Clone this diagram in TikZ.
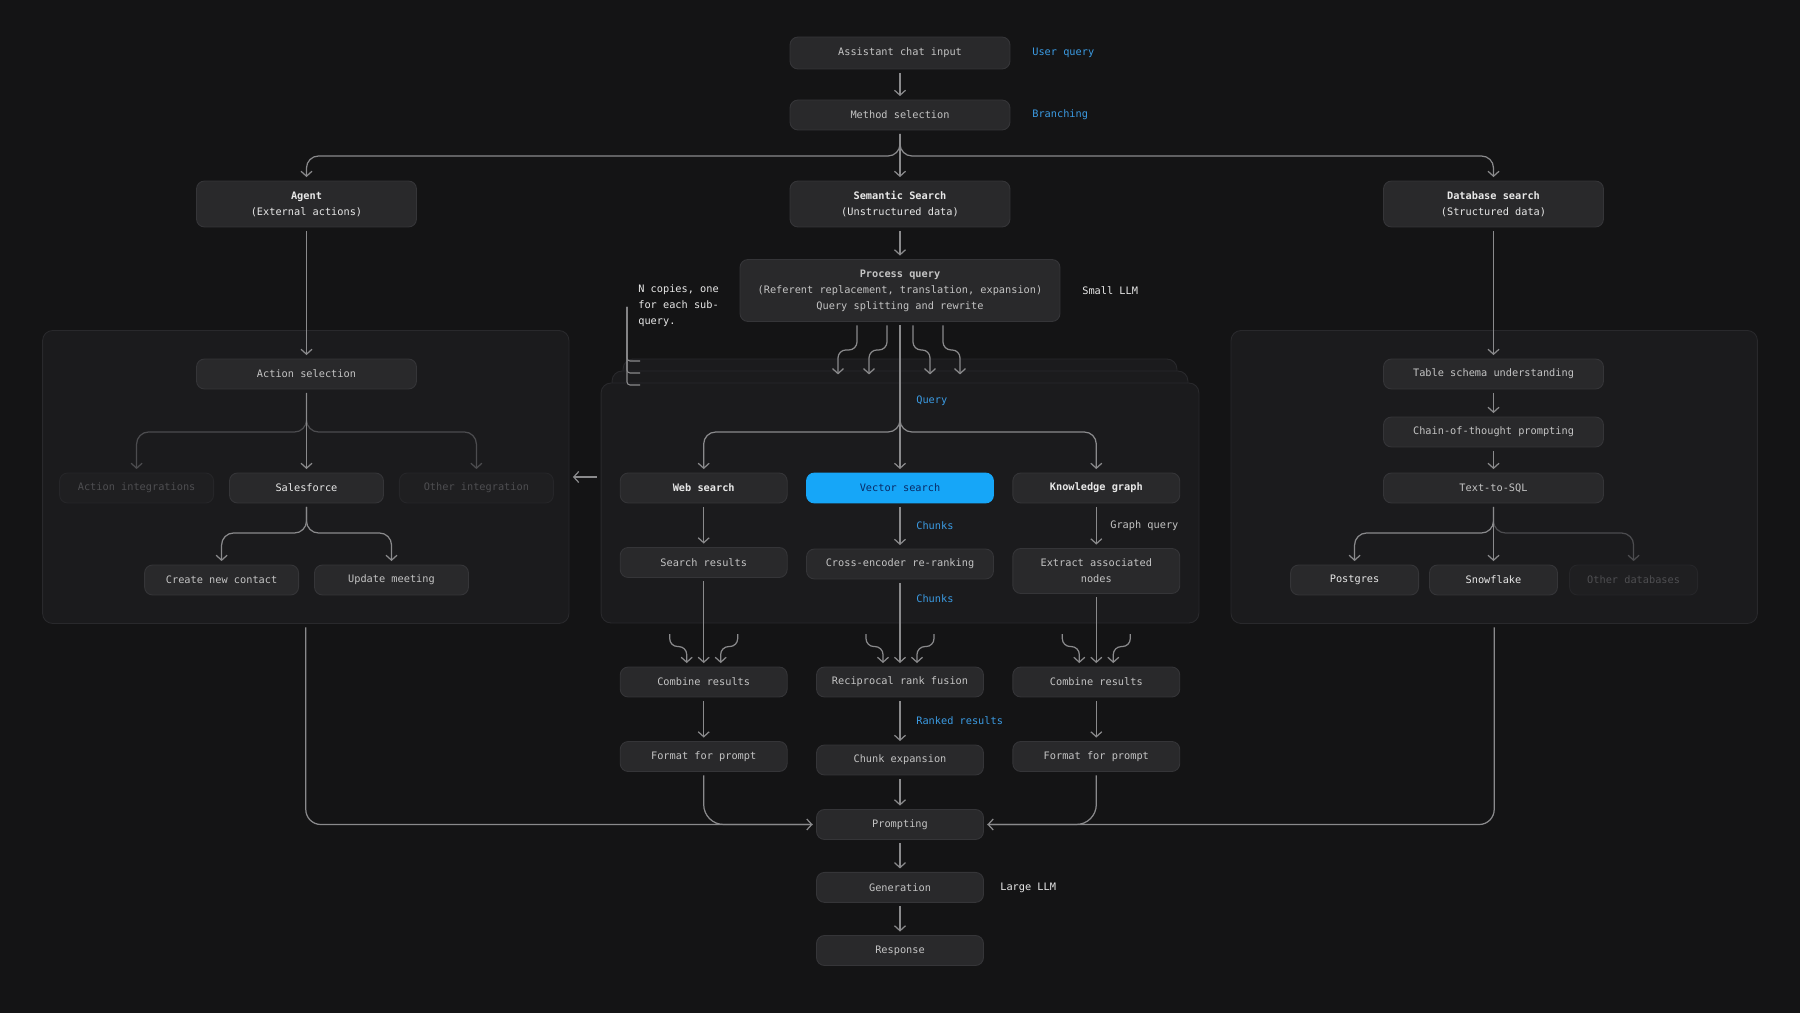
\documentclass[tikz,border=0pt]{standalone}
\usepackage{fontspec}
\setmonofont{DejaVu Sans Mono}
\usepackage{xcolor}
\usepackage{tikz}
\usetikzlibrary{positioning, arrows.meta}

\definecolor{bg}{HTML}{141415}
\definecolor{pnlfill}{HTML}{1B1B1D}
\definecolor{pnlline}{HTML}{29292C}
\definecolor{boxfill}{HTML}{29292B}
\definecolor{boxline}{HTML}{353538}
\definecolor{txt}{HTML}{C4C4C4}
\definecolor{hitxt}{HTML}{E8E8E8}
\definecolor{dimfill}{HTML}{1F1F21}
\definecolor{dimline}{HTML}{262629}
\definecolor{dimtxt}{HTML}{4E4E51}
\definecolor{wire}{HTML}{8A8A8C}
\definecolor{dimwire}{HTML}{4C4C4F}
\definecolor{tagblue}{HTML}{3B9BE3}
\definecolor{vsfill}{HTML}{16A6F8}
\definecolor{vstxt}{HTML}{082A66}

\begin{document}
\begin{tikzpicture}[x=0.02cm, y=-0.02cm,
  font=\ttfamily\fontsize{5.85pt}{9.1pt}\selectfont,
  bx/.style={draw=boxline, fill=boxfill, line width=0.5pt, rounded corners=0.16cm,
             minimum width=4.4cm, minimum height=0.6cm, align=center, text=txt},
  mid/.style={bx, minimum width=3.34cm},
  itg/.style={bx, minimum width=3.08cm},
  dbs/.style={bx, minimum width=2.56cm},
  dim/.style={fill=dimfill, draw=dimline, text=dimtxt},
  hi/.style={text=hitxt},
  pnl/.style={draw=pnlline, fill=pnlfill, line width=0.5pt, rounded corners=0.2cm},
  ln/.style={draw=wire, line width=0.7pt, shorten <=0.07cm, shorten >=0.07cm},
  arr/.style={ln, -{Straight Barb[length=0.1cm, width=0.22cm]}},
  fork/.style={arr, rounded corners=0.24cm},
  lbl/.style={anchor=west, inner sep=0pt, text=tagblue},
  note/.style={anchor=west, inner sep=0pt, text=hitxt, align=left}]
  \fill[bg] (0,0) rectangle (1800,1013);

  % panels
  \node[pnl, minimum width=10.53cm, minimum height=5.86cm] (lp) at (305.8,477) {};
  \node[pnl, minimum width=10.53cm, minimum height=5.86cm] (rp) at (1494.2,477) {};
  \node[pnl, minimum width=11.08cm, minimum height=4.8cm] (mp3) at (900,479) {};
  \node[pnl, minimum width=11.52cm, minimum height=4.8cm] (mp2) at (900,491) {};
  \node[pnl, minimum width=11.96cm, minimum height=4.8cm] (mp) at (900,503) {};

  % top
  \node[bx, minimum height=0.64cm] (in) at (900,53) {Assistant chat input};
  \node[bx] (ms) at (900,115) {Method selection};
  \node[bx, minimum height=0.92cm, hi] (ag) at (306.5,204) {\textbf{Agent}\\(External actions)};
  \node[bx, minimum height=0.92cm, hi] (ss) at (900,204) {\textbf{Semantic Search}\\(Unstructured data)};
  \node[bx, minimum height=0.92cm, hi] (db) at (1493.5,204) {\textbf{Database search}\\(Structured data)};
  \node[bx, minimum width=6.4cm, minimum height=1.24cm] (pq) at (900,290.5)
       {\textbf{Process query}\\(Referent replacement, translation, expansion)\\Query splitting and rewrite};
  \node[lbl] (uq) at (1032,53) {User query};
  \node[lbl] (br) at (1032,115) {Branching};
  \node[note] (sl) at (1082,290.5) {Small LLM};
  \node[note] (nc) at (638,306) {N copies, one\\for each sub-\\query.};

  % agent panel
  \node[bx] (as) at (306.5,374) {Action selection};
  \node[itg, dim] (ai) at (136.6,488) {Action integrations};
  \node[itg, hi] (sf) at (306.5,488) {Salesforce};
  \node[itg, dim] (oi) at (476.4,488) {Other integration};
  \node[itg] (cn) at (221.6,580) {Create new contact};
  \node[itg] (um) at (391.5,580) {Update meeting};

  % database panel
  \node[bx] (ts) at (1493.5,374) {Table schema understanding};
  \node[bx] (ct) at (1493.5,432) {Chain-of-thought prompting};
  \node[bx] (tq) at (1493.5,488) {Text-to-SQL};
  \node[dbs, hi] (pg) at (1354.6,580) {Postgres};
  \node[dbs, hi] (sn) at (1493.5,580) {Snowflake};
  \node[dbs, dim] (od) at (1633.6,580) {Other databases};

  % search panel
  \node[mid, hi] (ws) at (703.7,488) {\textbf{Web search}};
  \node[bx, minimum width=3.74cm, fill=vsfill, draw=vsfill, text=vstxt] (vs) at (900,488) {Vector search};
  \node[mid, hi] (kg) at (1096.3,488) {\textbf{Knowledge graph}};
  \node[mid] (sr) at (703.7,562.5) {Search results};
  \node[bx, minimum width=3.74cm] (ce) at (900,564) {Cross-encoder re-ranking};
  \node[mid, minimum height=0.9cm] (ea) at (1096.3,571) {Extract associated\\nodes};
  \node[lbl] (qy) at (916,401) {Query};
  \node[lbl] (ck1) at (916,526) {Chunks};
  \node[lbl] (ck2) at (916,599) {Chunks};
  \node[note, text=txt] (gq) at (1110,526) {Graph query};

  % lower column
  \node[mid] (cr1) at (703.7,682) {Combine results};
  \node[mid] (rr) at (900,682) {Reciprocal rank fusion};
  \node[mid] (cr2) at (1096.3,682) {Combine results};
  \node[mid] (fp1) at (703.7,756.5) {Format for prompt};
  \node[mid] (cx) at (900,760) {Chunk expansion};
  \node[mid] (fp2) at (1096.3,756.5) {Format for prompt};
  \node[lbl] (rk) at (916,721) {Ranked results};
  \node[mid] (pr) at (900,824.5) {Prompting};
  \node[mid] (ge) at (900,887.4) {Generation};
  \node[mid] (re) at (900,950.5) {Response};
  \node[note] (ll) at (1000,887.4) {Large LLM};

  % connectors
  \coordinate (k1) at (900,156);
  \coordinate (k2) at (900,432);
  \coordinate (k3) at (306.5,432);
  \coordinate (k4) at (306.5,533);
  \coordinate (k5) at (1493.5,533);
  \coordinate (nb) at (627,307);

  \draw[arr] (in) -- (ms);
  \draw[fork] (ms.south) |- (k1 -| ag) -- (ag.north);
  \draw[fork] (ms.south) |- (k1 -| db) -- (db.north);
  \draw[arr] (ms) -- (ss);
  \draw[arr] (ss) -- (pq);
  \draw[arr] (ag) -- (as);
  \draw[arr] (db) -- (ts);

  \draw[fork, draw=dimwire] (as.south) |- (k3 -| ai) -- (ai.north);
  \draw[fork, draw=dimwire] (as.south) |- (k3 -| oi) -- (oi.north);
  \draw[arr] (as) -- (sf);
  \draw[fork] (sf.south) |- (k4 -| cn) -- (cn.north);
  \draw[fork] (sf.south) |- (k4 -| um) -- (um.north);

  \draw[arr] (ts) -- (ct);
  \draw[arr] (ct) -- (tq);
  \draw[fork] (tq.south) |- (k5 -| pg) -- (pg.north);
  \draw[fork, draw=dimwire] (tq.south) |- (k5 -| od) -- (od.north);
  \draw[arr] (tq) -- (sn);

  \foreach \y in {361,373,385}
    \draw[draw=wire, line width=0.6pt, rounded corners=0.06cm] (nb) |- (640,\y);
  \foreach \a/\b in {-43/-62, -13/-31, 13/30, 43/60}
    \draw[arr, rounded corners=0.16cm] ([shift={(\a,0)}]pq.south) -- ++(0,28) -| ([shift={(\b,56)}]pq.south);
  \draw[fork] (pq.south) |- (k2 -| ws) -- (ws.north);
  \draw[fork] (pq.south) |- (k2 -| kg) -- (kg.north);
  \draw[arr] (pq) -- (vs);
  \draw[arr] (lp.east -| mp.west) -- (lp.east);

  \draw[arr] (ws) -- (sr);
  \draw[arr] (vs) -- (ce);
  \draw[arr] (kg) -- (ea);
  \draw[arr] (sr) -- (cr1);
  \draw[arr] (ce) -- (rr);
  \draw[arr] (ea) -- (cr2);
  \foreach \n in {cr1,rr,cr2} {
    \draw[arr, rounded corners=0.16cm] ([shift={(-34,-36)}]\n.north) -- ++(0,16) -| ([xshift=-17*0.02cm]\n.north);
    \draw[arr, rounded corners=0.16cm] ([shift={(34,-36)}]\n.north) -- ++(0,16) -| ([xshift=17*0.02cm]\n.north);
  }
  \draw[arr] (cr1) -- (fp1);
  \draw[arr] (rr) -- (cx);
  \draw[arr] (cr2) -- (fp2);
  \draw[arr] (cx) -- (pr);
  \draw[arr, rounded corners=0.3cm] (lp.south) |- (pr.west);
  \draw[arr, rounded corners=0.3cm] (rp.south) |- (pr.east);
  \draw[ln, rounded corners=0.4cm] (fp1.south) |- (pr.west);
  \draw[ln, rounded corners=0.4cm] (fp2.south) |- (pr.east);
  \draw[arr] (pr) -- (ge);
  \draw[arr] (ge) -- (re);
\end{tikzpicture}
\end{document}
